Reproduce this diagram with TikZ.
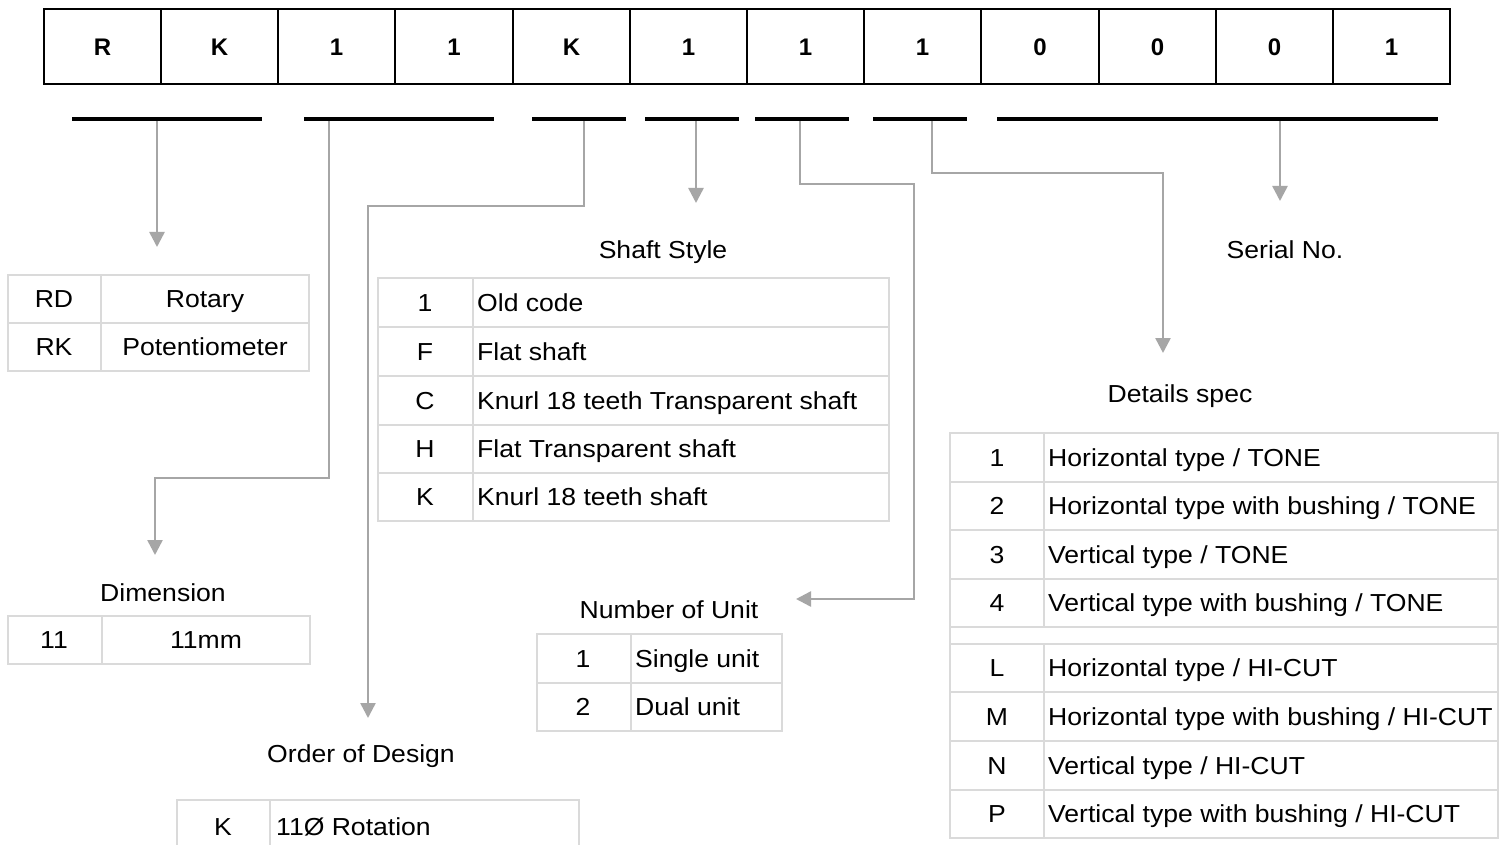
\documentclass[tikz,border=0pt]{standalone}
\usepackage{fontspec}
\setmainfont{Liberation Sans}[FakeStretch=1.08]
\newfontfamily\topfont{Liberation Sans}
\usetikzlibrary{arrows.meta}
\definecolor{conncol}{HTML}{A6A6A6}
\definecolor{gridcol}{HTML}{DADADA}
\tikzset{
 txt/.style={font=\fontsize{24.6}{28}\selectfont, inner sep=0pt, anchor=base},
 lft/.style={txt, anchor=base west},
 codetxt/.style={font=\topfont\bfseries\fontsize{24}{28}\selectfont, inner sep=0pt, anchor=base},
 bar/.style={line width=4pt, black},
 conn/.style={draw=conncol, line width=2.5pt, -{Triangle[width=15pt,length=15pt]}},
 gridline/.style={draw=gridcol, line width=1.2pt},
 boxline/.style={draw=black, line width=2.2pt},
}
\begin{document}
\begin{tikzpicture}[x=1pt,y=-1pt]
\useasboundingbox (0,0) rectangle (1505,845);
\clip (0,0) rectangle (1505,845);
\fill[white] (0,0) rectangle (1505,845);

% ---- top code boxes ----
\draw[boxline] (44,9) rectangle (1450,84);
\foreach \x in {161,278,395,513,630,747,864,981,1099,1216,1333} {\draw[boxline] (\x,9) -- (\x,84);}
\node[codetxt] (c1) at (102.5,56) {R};
\node[codetxt] (c2) at (219.5,56) {K};
\node[codetxt] (c3) at (336.5,56) {1};
\node[codetxt] (c4) at (454,56) {1};
\node[codetxt] (c5) at (571.5,56) {K};
\node[codetxt] (c6) at (688.5,56) {1};
\node[codetxt] (c7) at (805.5,56) {1};
\node[codetxt] (c8) at (922.5,56) {1};
\node[codetxt] (c9) at (1040,56) {0};
\node[codetxt] (c10) at (1157.5,56) {0};
\node[codetxt] (c11) at (1274.5,56) {0};
\node[codetxt] (c12) at (1391.5,56) {1};

% ---- bars ----
\coordinate (b1s) at (72,119);  \coordinate (b1e) at (262,119);
\coordinate (b2s) at (304,119); \coordinate (b2e) at (494,119);
\coordinate (b3s) at (532,119); \coordinate (b3e) at (626,119);
\coordinate (b4s) at (645,119); \coordinate (b4e) at (739,119);
\coordinate (b5s) at (755,119); \coordinate (b5e) at (849,119);
\coordinate (b6s) at (873,119); \coordinate (b6e) at (967,119);
\coordinate (b7s) at (997,119); \coordinate (b7e) at (1438,119);

% ---- connector points ----
\coordinate (p1) at (157,121); \coordinate (t1) at (157,247);
\coordinate (p2) at (329,121); \coordinate (k2) at (155,478); \coordinate (t2) at (155,555);
\coordinate (p3) at (584,121); \coordinate (k3) at (368,206); \coordinate (t3) at (368,718);
\coordinate (p4) at (696,121); \coordinate (t4) at (696,203);
\coordinate (p5) at (800,121); \coordinate (k5a) at (914,184); \coordinate (k5b) at (914,599); \coordinate (t5) at (796,599);
\coordinate (p6) at (932,121); \coordinate (k6) at (1163,173); \coordinate (t6) at (1163,353);
\coordinate (p7) at (1280,121); \coordinate (t7) at (1280,201);

\draw[conn] (p1) -- (t1);
\draw[conn] (p2) |- (k2) -- (t2);
\draw[conn] (p3) |- (k3) -- (t3);
\draw[conn] (p4) -- (t4);
\draw[conn] (p5) |- (k5a) -- (k5b) -- (t5);
\draw[conn] (p6) |- (k6) -- (t6);
\draw[conn] (p7) -- (t7);

\foreach \i in {1,...,7} {\draw[bar] (b\i s) -- (b\i e);}

% ---- type table ----
\draw[gridline] (8,275) rectangle (309,371);
\draw[gridline] (8,323) -- (309,323);
\draw[gridline] (101,275) -- (101,371);
\node[txt] (rd) at (54,307.7) {RD};
\node[txt] (rotary) at (205,307.7) {Rotary};
\node[txt] (rk) at (54,355.7) {RK};
\node[txt] (pot) at (205,355.7) {Potentiometer};

% ---- dimension ----
\node[txt] (dimlbl) at (163,601.7) {Dimension};
\draw[gridline] (8,616) rectangle (310,664);
\draw[gridline] (102,616) -- (102,664);
\node[txt] (d11) at (54,648.7) {11};
\node[txt] (d11mm) at (206,648.7) {11mm};

% ---- order of design ----
\node[txt] (ordlbl) at (361,762.7) {Order of Design};
\draw[gridline] (177,800) rectangle (579,860);
\draw[gridline] (270,800) -- (270,860);
\node[txt] (ok) at (223,835.7) {K};
\node[lft] (orot) at (276,835.7) {11Ø Rotation};

% ---- shaft style ----
\node[txt] (shlbl) at (663,258.7) {Shaft Style};
\draw[gridline] (378,278) rectangle (889,521);
\foreach \y in {327,376,425,473} {\draw[gridline] (378,\y) -- (889,\y);}
\draw[gridline] (473,278) -- (473,521);
\node[txt] (s1) at (425,311.2) {1};
\node[lft] (s1t) at (477,311.2) {Old code};
\node[txt] (s2) at (425,360.2) {F};
\node[lft] (s2t) at (477,360.2) {Flat shaft};
\node[txt] (s3) at (425,409.2) {C};
\node[lft] (s3t) at (477,409.2) {Knurl 18 teeth Transparent shaft};
\node[txt] (s4) at (425,457.7) {H};
\node[lft] (s4t) at (477,457.7) {Flat Transparent shaft};
\node[txt] (s5) at (425,505.7) {K};
\node[lft] (s5t) at (477,505.7) {Knurl 18 teeth shaft};

% ---- number of unit ----
\node[txt] (nulbl) at (669,618.7) {Number of Unit};
\draw[gridline] (537,634) rectangle (782,731);
\draw[gridline] (537,683) -- (782,683);
\draw[gridline] (631,634) -- (631,731);
\node[txt] (n1) at (583,667.2) {1};
\node[lft] (n1t) at (635,667.2) {Single unit};
\node[txt] (n2) at (583,715.7) {2};
\node[lft] (n2t) at (635,715.7) {Dual unit};

% ---- serial ----
\node[txt] (serlbl) at (1285,258.7) {Serial No.};

% ---- details spec ----
\node[txt] (detlbl) at (1180,402.7) {Details spec};
\draw[gridline] (950,433) rectangle (1498,838);
\foreach \y in {482,530,579,627,644,692,741,790} {\draw[gridline] (950,\y) -- (1498,\y);}
\draw[gridline] (1044,433) -- (1044,627);
\draw[gridline] (1044,644) -- (1044,838);
\node[txt] (e1) at (997,466.2) {1};
\node[lft] (e1t) at (1048,466.2) {Horizontal type / TONE};
\node[txt] (e2) at (997,514.7) {2};
\node[lft] (e2t) at (1048,514.7) {Horizontal type with bushing / TONE};
\node[txt] (e3) at (997,563.2) {3};
\node[lft] (e3t) at (1048,563.2) {Vertical type / TONE};
\node[txt] (e4) at (997,611.7) {4};
\node[lft] (e4t) at (1048,611.7) {Vertical type with bushing / TONE};
\node[txt] (eL) at (997,676.7) {L};
\node[lft] (eLt) at (1048,676.7) {Horizontal type / HI-CUT};
\node[txt] (eM) at (997,725.2) {M};
\node[lft] (eMt) at (1048,725.2) {Horizontal type with bushing / HI-CUT};
\node[txt] (eN) at (997,774.2) {N};
\node[lft] (eNt) at (1048,774.2) {Vertical type / HI-CUT};
\node[txt] (eP) at (997,822.7) {P};
\node[lft] (ePt) at (1048,822.7) {Vertical type with bushing / HI-CUT};
\end{tikzpicture}
\end{document}
